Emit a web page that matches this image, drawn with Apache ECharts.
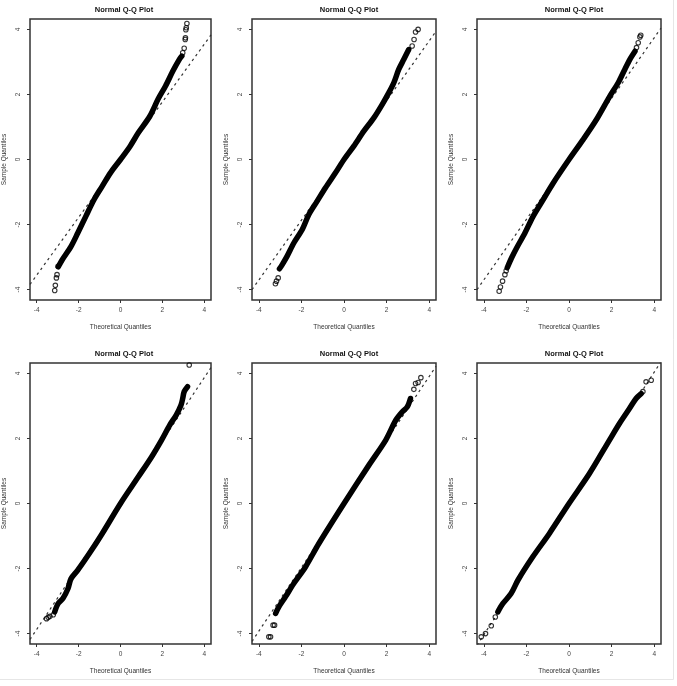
<!DOCTYPE html>
<html>
<head>
<meta charset="utf-8">
<script src="https://cdn.jsdelivr.net/npm/echarts@6/dist/echarts.min.js"></script>
<style>html,body{margin:0;padding:0;background:#fff}#c{width:677px;height:686px}</style>
</head>
<body>
<div id="c"></div>
<script>
// ---- data (theoretical quantile, sample quantile) ----
const tickValues = [-4, -2, 0, 2, 4];
const plotTitle = 'Normal Q-Q Plot';
const xTitle = 'Theoretical Quantiles';
const yTitle = 'Sample Quantiles';

// Panel 1
const p1Body = [[-2.97,-3.3],[-2.78,-3.08],[-2.36,-2.67],[-2.04,-2.26],[-1.65,-1.74],[-1.26,-1.23],[-0.87,-0.82],[-0.48,-0.41],[0,0],[0.46,0.41],[0.85,0.82],[1.4,1.33],[1.79,1.85],[2.15,2.26],[2.5,2.72],[2.81,3.08],[2.93,3.18]];
const p1Tail = [[-3.14,-4.03],[-3.11,-3.87],[-3.06,-3.64],[-3.03,-3.54],[-2.98,-3.28],[2.97,3.28],[3.04,3.42],[3.09,3.69],[3.1,3.74],[3.12,3.99],[3.14,4.05],[3.17,4.18]];
const p1Ref = [[-4.32,-3.84],[4.32,3.83]];

// Panel 2
const p2Body = [[-3.03,-3.36],[-2.9,-3.23],[-2.67,-2.97],[-2.35,-2.56],[-1.96,-2.15],[-1.65,-1.69],[-1.26,-1.28],[-0.87,-0.87],[-0.4,-0.41],[0,0],[0.46,0.41],[0.93,0.87],[1.4,1.28],[1.79,1.69],[2.1,2.05],[2.34,2.36],[2.57,2.77],[2.81,3.08],[3.04,3.38]];
const p2Tail = [[-3.22,-3.82],[-3.17,-3.74],[-3.09,-3.64],[3.2,3.49],[3.29,3.69],[3.36,3.92],[3.48,4.0]];
const p2Ref = [[-4.32,-4.0],[4.32,3.94]];

// Panel 3
const p3Body = [[-2.9,-3.33],[-2.7,-3.03],[-2.46,-2.72],[-2.07,-2.26],[-1.68,-1.74],[-1.21,-1.23],[-0.74,-0.72],[0,0],[0.67,0.62],[1.29,1.23],[1.92,1.95],[2.31,2.36],[2.62,2.77],[2.86,3.08],[3.1,3.33]];
const p3Tail = [[-3.28,-4.05],[-3.22,-3.92],[-3.12,-3.74],[-3.01,-3.54],[-2.95,-3.42],[3.17,3.44],[3.25,3.59],[3.33,3.77],[3.37,3.82]];
const p3Ref = [[-4.32,-4.0],[4.32,4.04]];

// Panel 4
const p4Body = [[-3.14,-3.33],[-2.98,-3.08],[-2.75,-2.92],[-2.51,-2.62],[-2.36,-2.31],[-2.04,-2.05],[-1.49,-1.54],[-0.87,-0.92],[0,0],[0.85,0.82],[1.49,1.44],[1.96,1.95],[2.35,2.41],[2.66,2.72],[2.89,3.03],[2.97,3.23],[3.04,3.44],[3.2,3.59]];
const p4Tail = [[-3.53,-3.54],[-3.45,-3.5],[-3.37,-3.47],[-3.21,-3.42],[3.28,4.26]];
const p4Ref = [[-4.32,-4.18],[4.32,4.18]];

// Panel 5
const p5Body = [[-3.21,-3.38],[-3.06,-3.18],[-2.75,-2.87],[-2.36,-2.46],[-1.81,-1.95],[-1.18,-1.23],[0,0],[1.17,1.18],[1.96,1.95],[2.43,2.56],[2.74,2.82],[2.97,2.97],[3.12,3.23]];
const p5Tail = [[-3.53,-4.1],[-3.45,-4.1],[-3.33,-3.74],[-3.26,-3.74],[3.28,3.51],[3.36,3.69],[3.48,3.72],[3.61,3.87]];
const p5Ref = [[-4.32,-4.24],[4.32,4.22]];

// Panel 6
const p6Body = [[-3.34,-3.33],[-3.11,-3.08],[-2.72,-2.77],[-2.4,-2.36],[-1.7,-1.64],[-0.92,-0.92],[0,0],[0.96,0.92],[1.9,1.95],[2.37,2.46],[2.84,2.92],[3.15,3.23],[3.39,3.38]];
const p6Tail = [[-4.12,-4.1],[-3.92,-4.0],[-3.65,-3.76],[-3.46,-3.49],[3.47,3.44],[3.62,3.74],[3.86,3.79]];
const p6Ref = [[-4.32,-4.36],[4.32,4.36]];

const panels = [
  {body:p1Body, tail:p1Tail, ref:p1Ref},
  {body:p2Body, tail:p2Tail, ref:p2Ref},
  {body:p3Body, tail:p3Tail, ref:p3Ref},
  {body:p4Body, tail:p4Tail, ref:p4Ref},
  {body:p5Body, tail:p5Tail, ref:p5Ref},
  {body:p6Body, tail:p6Tail, ref:p6Ref}
];

// ---- layout ----
const lefts = [27, 252, 477];
const tops = [19, 363];
const W = 184, H = 281;
const LIM = 4.32;
const font = 'Liberation Sans, Arial, sans-serif';

const grid = [], xAxis = [], yAxis = [], series = [], title = [];
panels.forEach((p, i) => {
  const r = Math.floor(i / 3), c = i % 3;
  grid.push({left: lefts[c], top: tops[r], width: W, height: H, show: true,
    borderColor: '#333', borderWidth: 1.5, backgroundColor: 'transparent', containLabel: false});
  title.push({text: plotTitle, left: lefts[c] + W / 2, top: tops[r] - 18, textAlign: 'center',
    textStyle: {fontFamily: font, fontSize: 7.5, fontWeight: 'bold', color: '#111'}});
  xAxis.push({type: 'value', gridIndex: i, min: -LIM, max: LIM, position: 'bottom',
    name: xTitle, nameLocation: 'middle', nameGap: 24,
    nameTextStyle: {fontFamily: font, fontSize: 6.5, color: '#333'},
    axisLine: {show: false, onZero: false}, splitLine: {show: false},
    axisTick: {show: true, inside: false, length: 3, customValues: tickValues, lineStyle: {color: '#333'}},
    axisLabel: {show: true, customValues: tickValues, margin: 7, fontFamily: font, fontSize: 6.5, color: '#444'}});
  yAxis.push({type: 'value', gridIndex: i, min: -LIM, max: LIM, position: 'left',
    name: yTitle, nameLocation: 'middle', nameGap: 22, nameRotate: 90,
    nameTextStyle: {fontFamily: font, fontSize: 6.5, color: '#333'},
    axisLine: {show: false, onZero: false}, splitLine: {show: false},
    axisTick: {show: true, inside: false, length: 3, customValues: tickValues, lineStyle: {color: '#333'}},
    axisLabel: {show: true, customValues: tickValues, rotate: 90, margin: 8, fontFamily: font, fontSize: 6.5, color: '#444'}});
  series.push({type: 'line', xAxisIndex: i, yAxisIndex: i, data: p.ref, symbol: 'none', clip: true,
    silent: true, lineStyle: {color: '#333', width: 1.2, type: [2.5, 3.5]}, z: 1});
  series.push({type: 'line', xAxisIndex: i, yAxisIndex: i, data: p.body, symbol: 'none', smooth: 0.3,
    silent: true, lineStyle: {color: '#000', width: 5.5, cap: 'round', join: 'round'}, z: 2});
  series.push({type: 'scatter', xAxisIndex: i, yAxisIndex: i, data: p.tail, symbol: 'circle', symbolSize: 4.5,
    silent: true, itemStyle: {color: 'rgba(0,0,0,0)', borderColor: '#000', borderWidth: 1.1}, z: 3});
});

const chart = echarts.init(document.getElementById('c'), null, {renderer: 'canvas'});
chart.setOption({
  animation: false,
  backgroundColor: '#fff',
  title, grid, xAxis, yAxis, series,
  graphic: [
    {type: 'line', shape: {x1: 673.5, y1: 0, x2: 673.5, y2: 679.5}, style: {stroke: '#e6e6e6', lineWidth: 1}},
    {type: 'line', shape: {x1: 0, y1: 679.5, x2: 673.5, y2: 679.5}, style: {stroke: '#e6e6e6', lineWidth: 1}}
  ]
});
</script>
</body>
</html>
